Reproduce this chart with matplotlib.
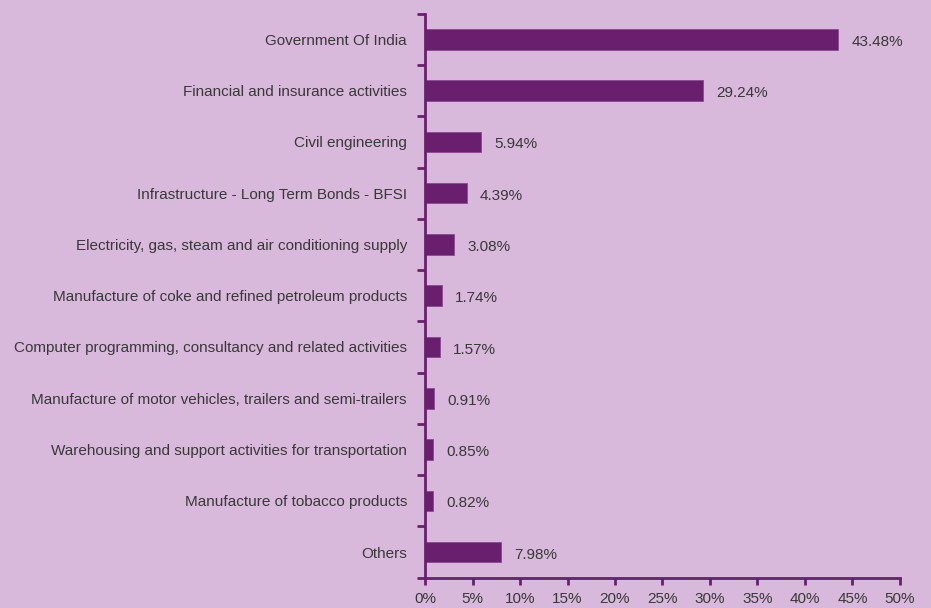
import matplotlib
matplotlib.use("Agg")
import matplotlib.pyplot as plt
from matplotlib import font_manager

categories = [
    "Government Of India",
    "Financial and insurance activities",
    "Civil engineering",
    "Infrastructure - Long Term Bonds - BFSI",
    "Electricity, gas, steam and air conditioning supply",
    "Manufacture of coke and refined petroleum products",
    "Computer programming, consultancy and related activities",
    "Manufacture of motor vehicles, trailers and semi-trailers",
    "Warehousing and support activities for transportation",
    "Manufacture of tobacco products",
    "Others",
]
values = [43.48, 29.24, 5.94, 4.39, 3.08, 1.74, 1.57, 0.91, 0.85, 0.82, 7.98]
xticks = [0, 5, 10, 15, 20, 25, 30, 35, 40, 45, 50]

names = {f.name for f in font_manager.fontManager.ttflist}
fam = ["Liberation Sans Narrow", "Liberation Sans", "DejaVu Sans"]
fam = [f for f in fam if f in names] or ["DejaVu Sans"]
plt.rcParams["font.family"] = fam

bg = "#D9B9DB"
bar_c = "#6A1F6E"
txt = "#383838"

fig = plt.figure(figsize=(9.31, 6.08), dpi=100, facecolor=bg)
ax = fig.add_axes([0.4565, 0.0498, 0.9667 - 0.4565, 0.9775 - 0.0498], facecolor=bg)

n = len(categories)
ypos = list(range(n))
ax.barh(ypos, values, height=0.4, color=bar_c, edgecolor="#8A4A8E", linewidth=0.6)
ax.set_ylim(n - 0.5, -0.5)
ax.set_xlim(0, 50)

for y, v in zip(ypos, values):
    ax.text(v + 1.4, y + 0.05, f"{v:.2f}%", va="center", ha="left", fontsize=11, color=txt)

ax.set_yticks(ypos)
ax.set_yticklabels(categories, fontsize=11, color=txt)
ax.tick_params(axis="y", which="major", length=0, pad=13)
ax.set_yticks([i - 0.5 for i in range(n + 1)], minor=True)
ax.tick_params(axis="y", which="minor", length=6, width=2, color=bar_c, direction="out")

ax.set_xticks(xticks)
ax.set_xticklabels([f"{t}%" for t in xticks], fontsize=11, color=txt)
ax.tick_params(axis="x", length=5, width=2, color=bar_c, direction="out", pad=5)

for s in ["top", "right"]:
    ax.spines[s].set_visible(False)
for s in ["left", "bottom"]:
    ax.spines[s].set_color(bar_c)
    ax.spines[s].set_linewidth(2)

fig.savefig("out.png", dpi=100, facecolor=bg)
